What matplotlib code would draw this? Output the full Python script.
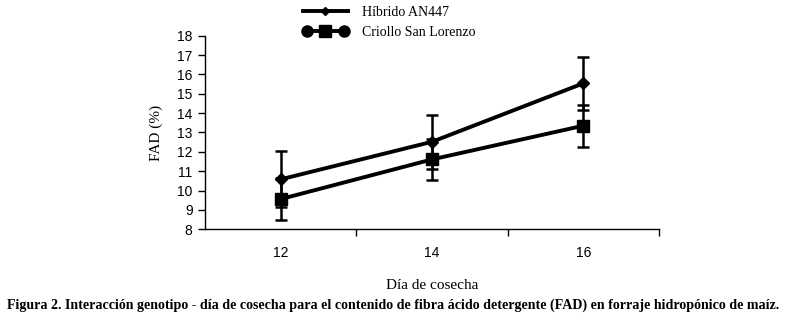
import matplotlib
matplotlib.use("Agg")
import matplotlib.pyplot as plt
from matplotlib.lines import Line2D
from matplotlib.legend_handler import HandlerLine2D, HandlerTuple

days = ["12", "14", "16"]
hibrido = [10.58, 12.52, 15.54]
hibrido_err = [1.45, 1.38, 1.38]
criollo = [9.56, 11.61, 13.35]
criollo_err = [1.08, 1.06, 1.08]
yticks = list(range(8, 19))

SERIF = ["Liberation Serif", "DejaVu Serif"]
SANS = ["Liberation Sans", "DejaVu Sans"]

fig = plt.figure(figsize=(7.86, 3.2), dpi=100)
ax = fig.add_axes([205/786, 1-229.3/320, (659-205)/786, (229.3-35.7)/320])

x = list(range(len(days)))
ax.errorbar(x, hibrido, yerr=hibrido_err, color="black", lw=2.8, marker="D", ms=6,
            elinewidth=1.8, capsize=4, capthick=1.8, zorder=3)
ax.errorbar(x, criollo, yerr=criollo_err, color="black", lw=2.8, marker="s", ms=9,
            elinewidth=1.8, capsize=4, capthick=1.8, zorder=4)

ax.set_xlim(-0.5, 2.5)
ax.set_ylim(8, 18)
ax.set_yticks(yticks)
ax.set_yticklabels([str(v) for v in yticks], fontfamily=SANS, fontsize=10)
ax.set_xticks([0.5, 1.5, 2.5])
ax.set_xticklabels([])
ax.set_xticks(x, minor=True)
ax.set_xticklabels(days, minor=True, fontfamily=SANS, fontsize=10)
ax.tick_params(axis="x", which="minor", length=0, pad=12)
ax.tick_params(axis="x", which="major", length=5, width=1, direction="out")
ax.tick_params(axis="y", length=5, width=1, direction="out", pad=4)
for s in ["top", "right"]:
    ax.spines[s].set_visible(False)
for s in ["left", "bottom"]:
    ax.spines[s].set_linewidth(1)

ax.set_ylabel("FAD (%)", fontfamily=SERIF, fontsize=11, labelpad=10)
ax.set_xlabel("Día de cosecha", fontfamily=SERIF, fontsize=11, labelpad=14)

h1 = Line2D([], [], color="black", lw=2.8, marker="D", ms=4)
h2a = Line2D([], [], color="black", lw=2.8, marker="o", ms=8)
h2b = Line2D([], [], color="black", ls="none", marker="s", ms=8)
leg = fig.legend([h1, (h2a, h2b)], ["Híbrido AN447", "Criollo San Lorenzo"],
                 handler_map={h1: HandlerLine2D(numpoints=1),
                              h2a: HandlerLine2D(numpoints=2),
                              h2b: HandlerLine2D(numpoints=1),
                              tuple: HandlerTuple(ndivide=1, pad=0)},
                 loc="upper left", bbox_to_anchor=(297/786, 1.0), frameon=False,
                 prop={"family": SERIF, "size": 10}, handlelength=3.3,
                 labelspacing=0.55, borderaxespad=0, handletextpad=1.0)

fig.text(0.5, 1-305/320, "Figura 2. Interacción genotipo - día de cosecha para el contenido de fibra ácido detergente (FAD) en forraje hidropónico de maíz.",
         ha="center", va="center", fontfamily=SERIF, fontsize=10.1, fontweight="bold")

fig.savefig("out.png", dpi=100)
